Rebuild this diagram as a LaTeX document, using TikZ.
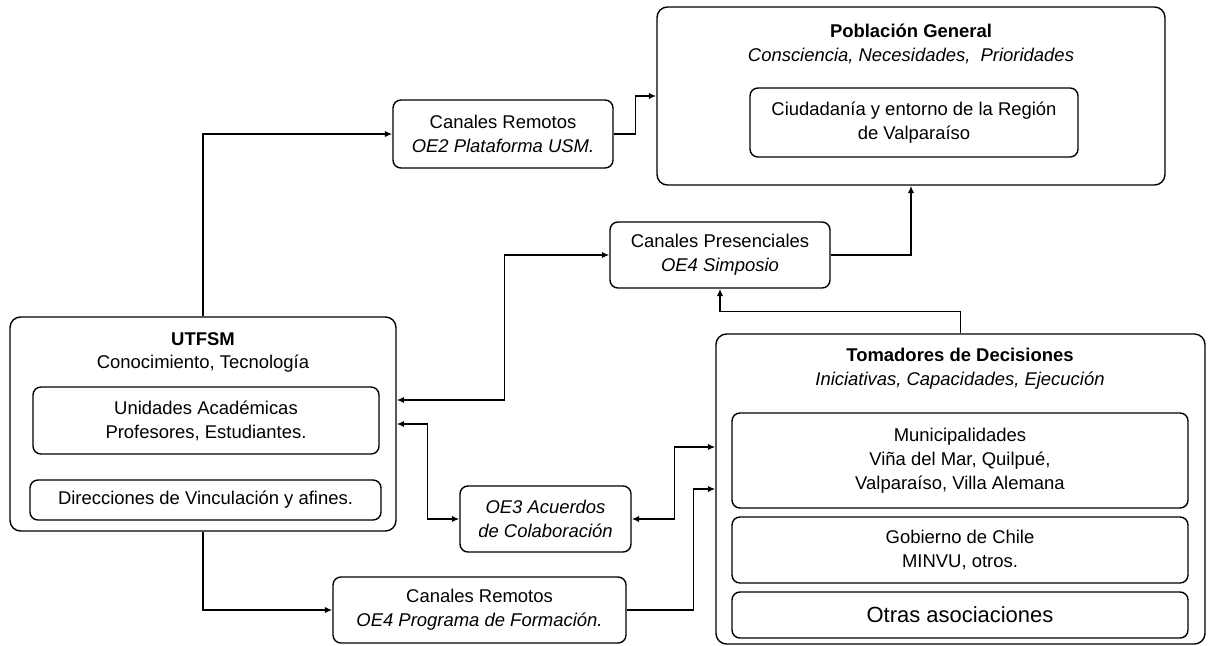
\documentclass[tikz,border=0pt]{standalone}
\usepackage{fontspec}
\setmainfont{Liberation Sans}
\usetikzlibrary{calc,arrows.meta}
\tikzset{
  box/.style={draw, rounded corners=4.5pt, line width=0.8pt, align=center, inner sep=2pt,
    font=\fontsize{10.5}{13.6}\selectfont},
  outer/.style={box, rounded corners=6pt},
  title/.style={align=center, inner sep=0pt, font=\fontsize{10.5}{13.6}\selectfont},
  arr/.style={line width=0.9pt, -{Latex[length=1.5mm,width=1.3mm]}},
  arrs/.style={line width=0.9pt, {Latex[length=1.5mm,width=1.3mm]}-{Latex[length=1.5mm,width=1.3mm]}},
}
% box from its pixel corners: name, x1, y1, x2, y2, style, text
\newcommand\pxbox[7]{%
  \node[#6, minimum width={(#4-#2)*0.02cm}, minimum height={(#5-#3)*0.02cm}] (#1)
    at ({(#2+#4)/2}, {(#3+#5)/2}) {#7}
}

\begin{document}
\begin{tikzpicture}[x=0.02cm, y=-0.02cm]
        \useasboundingbox (0,0) rectangle (1208,646);
        % Poblacion General
        \pxbox{pob}{657}{7}{1165}{185}{outer}{};
        \node[title] (pobt) at (911,43.5) {\textbf{Población General}\\
          \textit{Consciencia, Necesidades,~ Prioridades}};
        \pxbox{ciud}{750}{88}{1078}{157}{box}{Ciudadanía y entorno de la Región\\de Valparaíso};

        % The channels
        \pxbox{remA}{393}{100}{613}{168}{box}{Canales Remotos\\\textit{OE2 Plataforma USM.}};
        \pxbox{pres}{610}{222}{830}{288}{box}{Canales Presenciales\\\textit{OE4 Simposio}};
        \pxbox{acu}{460}{486}{631}{552}{box}{\textit{OE3 Acuerdos}\\\textit{de Colaboración}};
        \pxbox{remB}{333}{577}{626}{643}{box}{Canales Remotos\\\textit{OE4 Programa de Formación.}};

        % UTFSM
        \pxbox{utf}{10}{317}{396}{531}{outer}{};
        \node[title] (utft) at (203,352.5) {\textbf{UTFSM}\\Conocimiento, Tecnología};
        \pxbox{unid}{33}{387}{379}{454}{box}{Unidades Académicas\\Profesores, Estudiantes.};
        \pxbox{dir}{30}{480}{381}{520}{box}{Direcciones de Vinculación y afines.};

        % Tomadores de Decisiones
        \pxbox{tom}{716}{334}{1205}{644}{outer}{};
        \node[title] (tomt) at (960,368.5) {\textbf{Tomadores de Decisiones}\\
          \textit{Iniciativas, Capacidades, Ejecución}};
        \pxbox{muni}{732}{413}{1188}{508}{box}{Municipalidades\\Viña del Mar, Quilpué,\\Valparaíso, Villa Alemana};
        \pxbox{gob}{732}{517}{1188}{583}{box}{Gobierno de Chile\\MINVU, otros.};
        \pxbox{otr}{732}{592}{1188}{638}{box, font=\fontsize{12.5}{14}\selectfont}{Otras asociaciones};

        % Connections
        \draw[arr] (utf.north) |- (remA.west);
        \draw[arr] (remA.east) -- ++(22,0) |- (pob.west);
        \draw[arr] (pres.east) -| (pob.south);
        \draw[arr] (tom.north) -- ++(0,-22) -| (pres.south);
        \draw[arrs] ($(utf.east)+(0,-24)$) -- ++(108,0) |- (pres.west);
        \draw[arrs] (utf.east) -- ++(31,0) |- (acu.west);
        \draw[arrs] (acu.east) -- ++(43,0) |- ($(tom.west)+(0,-42)$);
        \draw[arr] (utf.south) |- (remB.west);
        \draw[arr] (remB.east) -- ++(67,0) |- (tom.west);
\end{tikzpicture}
\end{document}
